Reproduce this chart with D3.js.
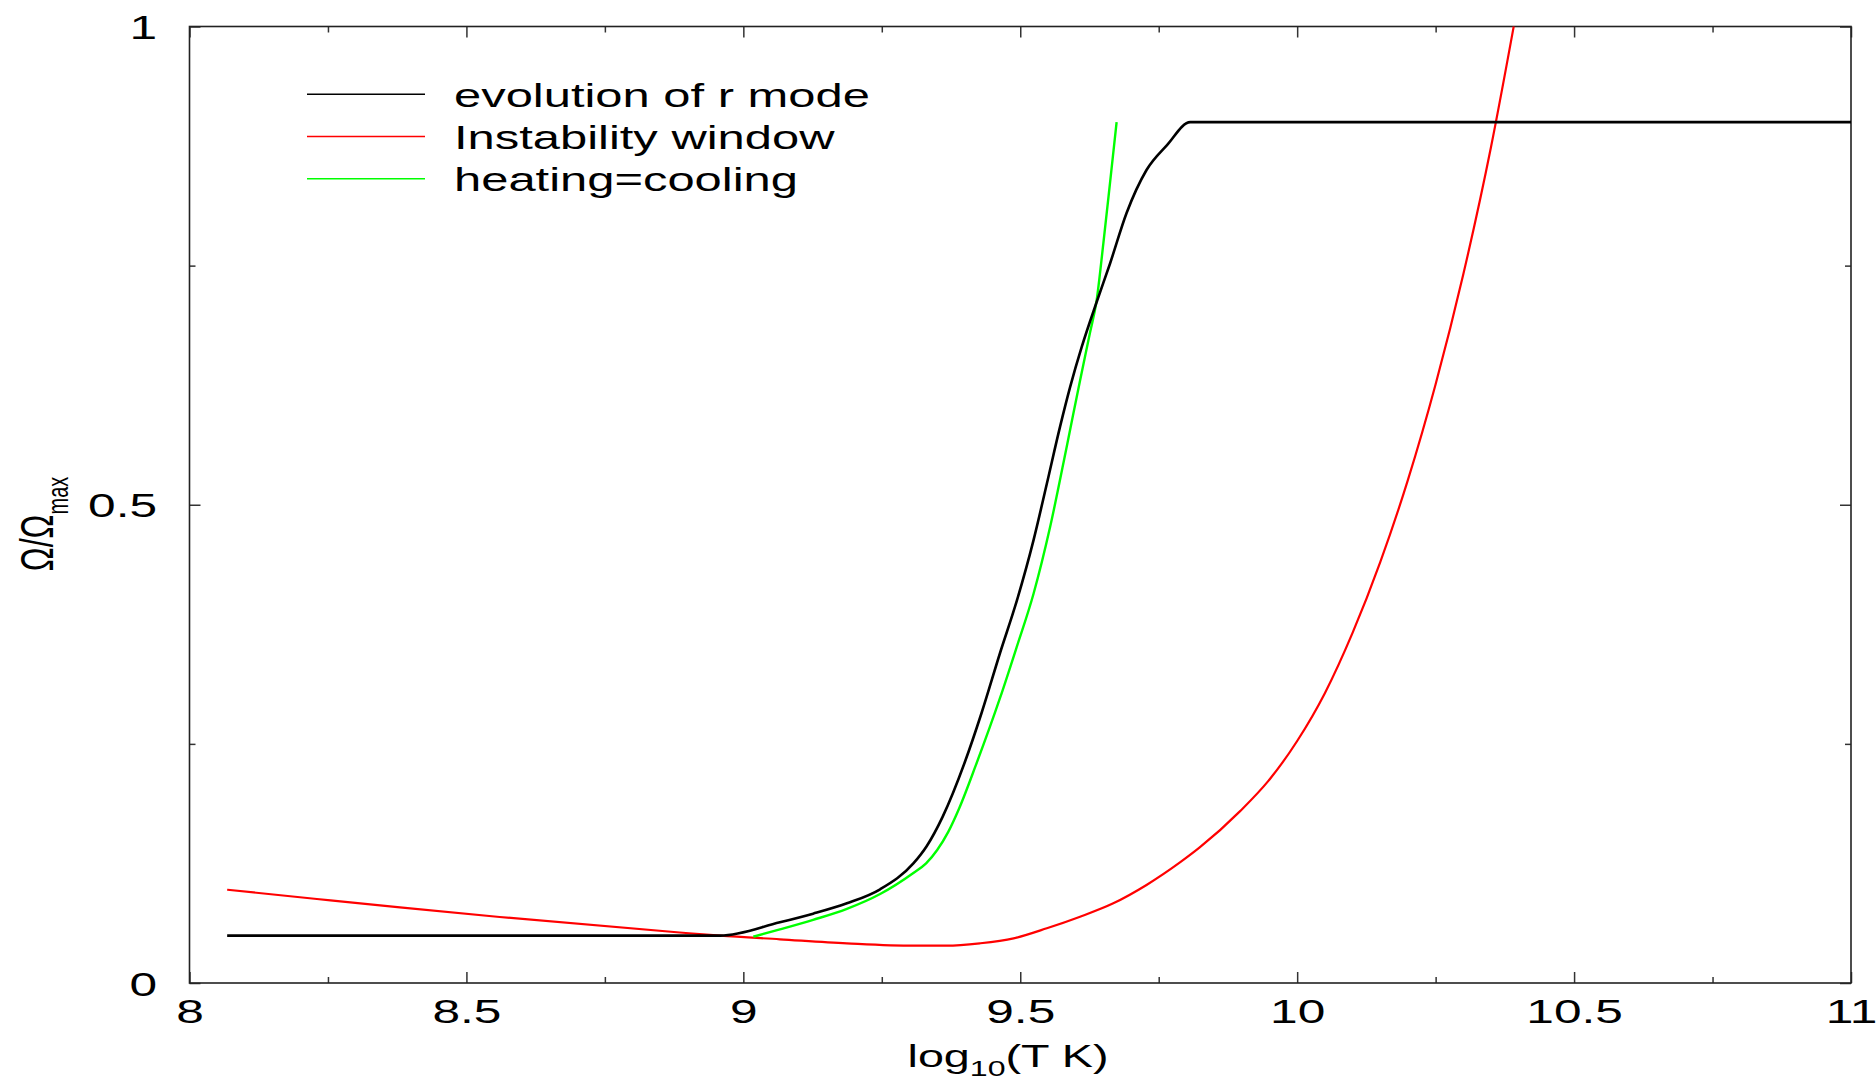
<!DOCTYPE html>
<html>
<head>
<meta charset="utf-8">
<script src="https://cdn.jsdelivr.net/npm/d3@7"></script>
<style>
  body { margin: 0; background: #fff; }
  text { font-family: "Liberation Sans", Arial, Helvetica, sans-serif; fill: #000; }
</style>
</head>
<body>
<div id="chart"></div>
<script>
// values
const xMajor = [8, 8.5, 9, 9.5, 10, 10.5, 11]
const xMinor = [8.25, 8.75, 9.25, 9.75, 10.25, 10.75]
const xTickLabels = ["8", "8.5", "9", "9.5", "10", "10.5", "11"]
const yMajor = [0, 0.5, 1]
const yMinor = [0.25, 0.75]
const yTickLabels = ["0", "0.5", "1"]

// evolution of r mode
const rmodeX = [8.068, 8.958, 9.066, 9.126, 9.187, 9.247, 9.307, 9.331, 9.36, 9.40, 9.43, 9.4635, 9.494, 9.524, 9.548, 9.572, 9.590, 9.611, 9.638, 9.662, 9.692, 9.728, 9.765, 9.807, 11]
const rmodeY = [0.0495, 0.0495, 0.0635, 0.0725, 0.0833, 0.098, 0.125, 0.143, 0.174, 0.231, 0.282, 0.345, 0.400, 0.463, 0.522, 0.582, 0.623, 0.665, 0.712, 0.752, 0.805, 0.850, 0.876, 0.900, 0.900]

// instability window
const windowX = [8.068, 8.23, 8.38, 8.56, 8.885, 8.958, 9.066, 9.187, 9.308, 9.367, 9.427, 9.488, 9.548, 9.608, 9.668, 9.728, 9.789, 9.824, 9.897, 9.948, 10.0, 10.05, 10.1, 10.15, 10.2, 10.25, 10.3, 10.35, 10.391]
const windowY = [0.0975, 0.0878, 0.0790, 0.0690, 0.0528, 0.0495, 0.0457, 0.0415, 0.039, 0.039, 0.0415, 0.0467, 0.0572, 0.0693, 0.0833, 0.1025, 0.1263, 0.1417, 0.1797, 0.2113, 0.253, 0.303, 0.366, 0.440, 0.526, 0.626, 0.741, 0.874, 1.0]

// heating = cooling
const heatX = [9.018, 9.066, 9.126, 9.187, 9.247, 9.307, 9.33, 9.35, 9.37, 9.39, 9.42, 9.4635, 9.494, 9.524, 9.554, 9.584, 9.608, 9.626, 9.638, 9.650, 9.662, 9.674]
const heatY = [0.0484, 0.056, 0.066, 0.0775, 0.093, 0.115, 0.125, 0.139, 0.158, 0.183, 0.228, 0.298, 0.352, 0.407, 0.477, 0.561, 0.630, 0.680, 0.714, 0.773, 0.836, 0.900]

const legendNames = ["evolution of r mode", "Instability window", "heating=cooling"]
const legendColors = ["#000000", "#ff0000", "#00ff00"]

const W = 1876, H = 1081
const margin = {left: 189.5, right: 25, top: 26.5, bottom: 98}
const sx = 1.46 // text in the reference is stretched sideways

const svg = d3.select("#chart").append("svg")
  .attr("width", W)
  .attr("height", H)

const x = d3.scaleLinear().domain([8, 11]).range([margin.left, W - margin.right])
const y = d3.scaleLinear().domain([0, 1]).range([H - margin.bottom, margin.top])

const zip = (xs, ys) => xs.map((v, i) => [v, ys[i]])

// ticks, all pointing inward
const tickColor = "#333"
function addAxis(axis, transform) {
  const g = svg.append("g").attr("transform", transform).call(axis)
  g.select(".domain").remove()
  g.selectAll("line").attr("stroke", tickColor).attr("stroke-width", 1.5)
  return g
}
const atBottom = `translate(0,${y(0)})`, atTop = `translate(0,${y(1)})`
const atLeft = `translate(${x(8)},0)`, atRight = `translate(${x(11)},0)`

const xb = addAxis(d3.axisBottom(x).tickValues(xMajor).tickSize(-11)
  .tickFormat((d, i) => xTickLabels[i]), atBottom)
addAxis(d3.axisBottom(x).tickValues(xMinor).tickSize(-6).tickFormat(""), atBottom)
addAxis(d3.axisTop(x).tickValues(xMajor).tickSize(-11).tickFormat(""), atTop)
addAxis(d3.axisTop(x).tickValues(xMinor).tickSize(-6).tickFormat(""), atTop)
const yl = addAxis(d3.axisLeft(y).tickValues(yMajor).tickSize(-11)
  .tickFormat((d, i) => yTickLabels[i]), atLeft)
addAxis(d3.axisLeft(y).tickValues(yMinor).tickSize(-6).tickFormat(""), atLeft)
addAxis(d3.axisRight(y).tickValues(yMajor).tickSize(-11).tickFormat(""), atRight)
addAxis(d3.axisRight(y).tickValues(yMinor).tickSize(-6).tickFormat(""), atRight)

xb.selectAll("text")
  .attr("y", 40).attr("dy", null)
  .attr("transform", `scale(${sx},1)`)
  .style("font-size", "34px")
  .attr("fill", "#000")
yl.selectAll("text")
  .attr("x", -32.5 / sx).attr("dy", "0.36em")
  .attr("transform", `scale(${sx},1)`)
  .style("font-size", "34px")
  .attr("fill", "#000")

// frame
svg.append("rect")
  .attr("x", x(8)).attr("y", y(1))
  .attr("width", x(11) - x(8)).attr("height", y(0) - y(1))
  .attr("fill", "none")
  .attr("stroke", "#222")
  .attr("stroke-width", 1.6)

// curves
const line = d3.line()
  .x(d => x(d[0]))
  .y(d => y(d[1]))
  .curve(d3.curveMonotoneX)

const series = [
  {pts: zip(windowX, windowY), color: legendColors[1], w: 2.2},
  {pts: zip(heatX, heatY), color: legendColors[2], w: 2.4},
  {pts: zip(rmodeX, rmodeY), color: legendColors[0], w: 2.6}
]
svg.selectAll("path.curve")
  .data(series)
  .enter().append("path")
    .attr("class", "curve")
    .attr("d", d => line(d.pts))
    .attr("fill", "none")
    .attr("stroke", d => d.color)
    .attr("stroke-width", d => d.w)
    .attr("stroke-linejoin", "round")

// legend
const legend = svg.append("g")
legendNames.forEach((name, i) => {
  const ly = 94.3 + i * 42.2
  legend.append("line")
    .attr("x1", 307).attr("x2", 425)
    .attr("y1", ly).attr("y2", ly)
    .attr("stroke", legendColors[i])
    .attr("stroke-width", 1.6)
  legend.append("text")
    .attr("transform", `translate(454,${ly + 12.5}) scale(${sx},1)`)
    .style("font-size", "33.5px")
    .text(name)
})

// axis titles
const xt = svg.append("text")
  .attr("transform", `translate(1008,1067) scale(${sx},1)`)
  .attr("text-anchor", "middle")
  .style("font-size", "32px")
xt.append("tspan").text("log")
xt.append("tspan").attr("dy", 9).style("font-size", "22px").text("10")
xt.append("tspan").attr("dy", -9).text("(T K)")

const yt = svg.append("text")
  .attr("transform", `translate(53,524) scale(${sx},1) rotate(-90)`)
  .attr("text-anchor", "middle")
  .style("font-size", "32px")
yt.append("tspan").text("Ω/Ω")
yt.append("tspan").attr("dy", 10).style("font-size", "20px").text("max")
</script>
</body>
</html>
